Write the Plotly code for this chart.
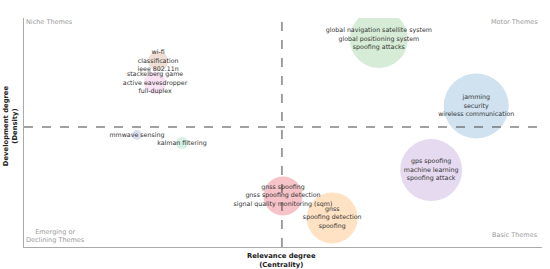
import plotly.graph_objects as go

# ---- data ----
labels = [
    "global navigation satellite system<br>global positioning system<br>spoofing attacks",
    "jamming<br>security<br>wireless communication",
    "gps spoofing<br>machine learning<br>spoofing attack",
    "gnss spoofing<br>gnss spoofing detection<br>signal quality monitoring (sqm)",
    "gnss<br>spoofing detection<br>spoofing",
    "wi-fi<br>classification<br>ieee 802.11n",
    "stackelberg game<br>active eavesdropper<br>full-duplex",
    "mmwave sensing",
    "kalman filtering",
]
centrality = [68.5, 87.3, 78.6, 50.0, 59.5, 25.9, 25.3, 21.8, 30.5]
density = [90.8, 61.6, 33.6, 22.3, 12.7, 81.2, 71.6, 48.9, 45.4]
bubble_size = [58, 65, 62, 39, 51, 20, 22, 10, 12]
colors = [
    "rgba(44,160,44,0.28)",
    "rgba(31,119,180,0.3)",
    "rgba(148,103,189,0.35)",
    "rgba(225,50,70,0.42)",
    "rgba(255,140,20,0.36)",
    "rgba(190,120,80,0.35)",
    "rgba(227,119,194,0.30)",
    "rgba(90,100,190,0.30)",
    "rgba(60,190,130,0.30)",
]
centrality_threshold = 49.8
density_threshold = 52.4

quadrants = ["Niche Themes", "Motor Themes", "Emerging or<br>Declining Themes", "Basic Themes"]

FONT = "DejaVu Sans"

fig = go.Figure()
fig.add_trace(go.Scatter(
    x=centrality, y=density, mode="markers+text",
    text=labels, textposition="middle center",
    textfont=dict(family=FONT, size=6.3, color="#333333"),
    marker=dict(size=bubble_size, color=colors, line=dict(width=0)),
    hoverinfo="skip", showlegend=False,
))

fig.add_shape(type="line", xref="x", yref="paper", x0=centrality_threshold, x1=centrality_threshold,
              y0=0, y1=1, line=dict(color="#444", width=1, dash="dash"), layer="above")
fig.add_shape(type="line", xref="paper", yref="y", x0=0, x1=1, y0=density_threshold, y1=density_threshold,
              line=dict(color="#444", width=1, dash="dash"), layer="above")

qfont = dict(family=FONT, size=6.5, color="#9a9a9a")
fig.add_annotation(text=quadrants[0], xref="paper", yref="paper", x=0, y=1, xanchor="left", yanchor="top",
                   showarrow=False, font=qfont, xshift=0, yshift=2)
fig.add_annotation(text=quadrants[1], xref="paper", yref="paper", x=1, y=1, xanchor="right", yanchor="top",
                   showarrow=False, font=qfont, xshift=-2, yshift=2)
fig.add_annotation(text=quadrants[2], xref="paper", yref="paper", x=0, y=0, xanchor="left", yanchor="bottom",
                   showarrow=False, font=qfont, align="center", yshift=1)
fig.add_annotation(text=quadrants[3], xref="paper", yref="paper", x=1, y=0, xanchor="right", yanchor="bottom",
                   showarrow=False, font=qfont, xshift=-2, yshift=6)

tfont = dict(family=FONT, size=6.8, color="#222")
fig.add_annotation(text="<b>Relevance degree</b><br><b>(Centrality)</b>", xref="x", yref="paper",
                   x=centrality_threshold, y=0, xanchor="center", yanchor="top",
                   showarrow=False, font=tfont, yshift=-3)
fig.add_annotation(text="<b>Development degree</b><br><b>(Density)</b>", xref="paper", yref="paper",
                   x=0, y=0.53, xanchor="right", yanchor="middle", textangle=-90,
                   showarrow=False, font=tfont, xshift=-3)

fig.update_xaxes(range=[0, 100], showline=True, linecolor="#aaa", linewidth=1, showgrid=False,
                 zeroline=False, showticklabels=False, ticks="", fixedrange=True)
fig.update_yaxes(range=[0, 100], showline=True, linecolor="#aaa", linewidth=1, showgrid=False,
                 zeroline=False, showticklabels=False, ticks="", fixedrange=True)

fig.update_layout(
    width=550, height=269,
    margin=dict(l=24, r=8, t=18, b=22),
    plot_bgcolor="white", paper_bgcolor="white",
    font=dict(family=FONT),
)

fig.write_html("out.html", config={"displayModeBar": False},
               post_script="document.body.style.margin='0';document.body.style.overflow='hidden';")
